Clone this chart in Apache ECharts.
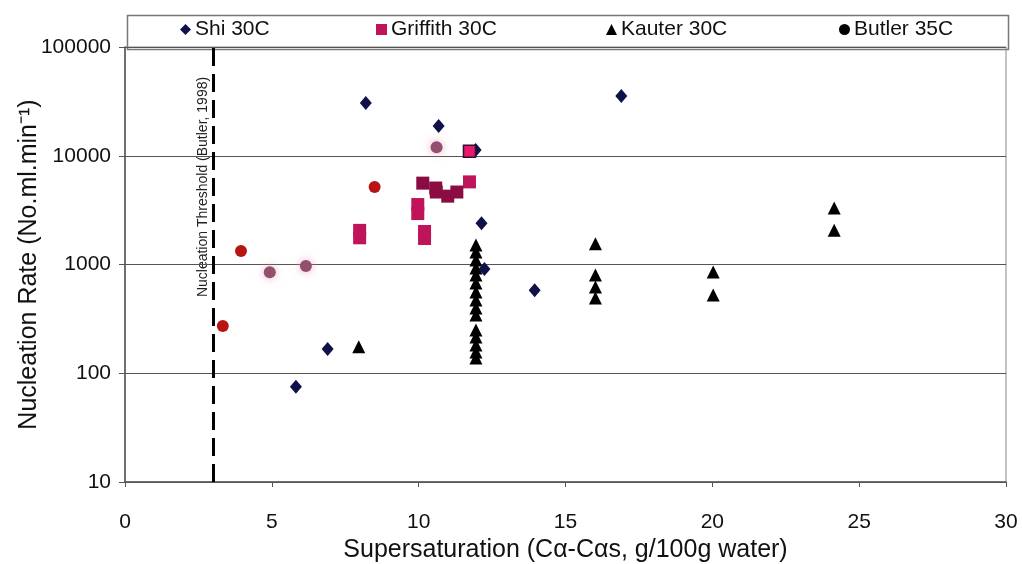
<!DOCTYPE html>
<html>
<head>
<meta charset="utf-8">
<script src="https://cdn.jsdelivr.net/npm/echarts@6/dist/echarts.min.js"></script>
<style>
  html, body { margin: 0; padding: 0; background: #fff; }
  #chart { width: 1022px; height: 564px; }
</style>
</head>
<body>
<div id="chart"></div>
<script>
// [supersaturation, nucleation rate]
const shi = [
  [8.2, 30500], [10.68, 18800], [16.9, 35500], [12.14, 2400],
  [11.94, 11300], [12.24, 910], [13.95, 580], [6.9, 167], [5.82, 75]
];
const griffith = [
  [7.99, 2060], [7.99, 1760], [9.97, 3560], [9.97, 2940],
  [10.2, 2010], [10.2, 1735], [11.73, 5750]
];
const griffithCluster = [
  [10.14, 5600], [10.58, 5050], [10.6, 4640], [10.99, 4250], [11.3, 4640]
];
const griffithMarked = [[11.73, 11000]];
const kauter = [
  [7.96, 175],
  [11.95, 1510], [11.95, 1300], [11.95, 1100], [11.95, 930], [11.95, 800],
  [11.95, 676], [11.95, 558], [11.95, 472], [11.95, 398], [11.95, 343],
  [11.95, 250], [11.95, 215], [11.95, 182], [11.95, 157], [11.95, 138],
  [16.02, 1550], [16.02, 800], [16.02, 621], [16.02, 492],
  [20.03, 853], [20.03, 525],
  [24.15, 3300], [24.15, 2070]
];
const butler = [[3.95, 1330], [3.33, 272], [8.5, 5150]];
const butlerFaded = [[4.93, 850], [6.16, 970], [10.61, 12000]];
const threshold = 3;

const font = 'Liberation Sans, Arial, sans-serif';
const chart = echarts.init(document.getElementById('chart'), null, { renderer: 'canvas' });

const legendBase = {
  top: 19, padding: 0, itemWidth: 11, itemHeight: 11, itemGap: 4,
  textStyle: { fontFamily: font, fontSize: 21, color: '#111', padding: [0, 0, 0, -1] }
};

chart.setOption({
  animation: false,
  backgroundColor: '#fff',
  grid: {
    left: 125, right: 16, top: 47, bottom: 82, outerBoundsMode: 'none',
    show: true, borderColor: '#888', borderWidth: 1
  },
  legend: [
    Object.assign({}, legendBase, { left: 180, data: ['Shi 30C'] }),
    Object.assign({}, legendBase, { left: 376, data: ['Griffith 30C'] }),
    Object.assign({}, legendBase, { left: 606, data: ['Kauter 30C'] }),
    Object.assign({}, legendBase, { left: 839, data: [{ name: 'Butler 35C', itemStyle: { color: '#000' } }] })
  ],
  graphic: [
    { type: 'rect', left: 125, top: 13, shape: { width: 881, height: 34 },
      style: { fill: 'none', stroke: '#777', lineWidth: 1.5 }, z: -1 },
    { type: 'text', x: 203, y: 187, rotation: Math.PI / 2,
      style: { text: 'Nucleation Threshold (Butler, 1998)', fontFamily: font, fontSize: 14,
        fill: '#222', align: 'center', verticalAlign: 'middle' } }
  ],
  xAxis: {
    type: 'value', min: 0, max: 30, interval: 5,
    name: 'Supersaturation (C\u03b1-C\u03b1s, g/100g water)',
    nameLocation: 'middle', nameGap: 56, nameMoveOverlap: false,
    nameTextStyle: { fontFamily: font, fontSize: 25, color: '#111' },
    axisLine: { lineStyle: { color: '#555', width: 1.5 } },
    axisTick: { show: true, length: 5, lineStyle: { color: '#555' } },
    axisLabel: { fontFamily: font, fontSize: 21, color: '#111', margin: 30 },
    splitLine: { show: false }
  },
  yAxis: {
    type: 'log', logBase: 10, min: 10, max: 100000,
    name: 'Nucleation Rate (No.ml.min\u207b\u00b9)',
    nameLocation: 'middle', nameGap: 83, nameMoveOverlap: false,
    nameTextStyle: { fontFamily: font, fontSize: 25, color: '#111' },
    axisLine: { show: true, lineStyle: { color: '#555', width: 1.5 } },
    axisTick: { show: true, length: 6, lineStyle: { color: '#555' } },
    minorTick: { show: false },
    axisLabel: { fontFamily: font, fontSize: 21, color: '#111', margin: 14,
      formatter: function (v) { return String(Math.round(v)); } },
    splitLine: { show: true, lineStyle: { color: '#555', width: 1.2 } }
  },
  series: [
    {
      name: 'Kauter 30C', type: 'scatter', data: kauter,
      symbol: 'triangle', symbolSize: [13, 13],
      itemStyle: { color: '#000', opacity: 1 },
      markLine: {
        silent: true, symbol: 'none', label: { show: false },
        lineStyle: { color: '#000', width: 3, type: [18, 8] },
        data: [{ xAxis: threshold }]
      }
    },
    {
      name: 'Butler 35C', type: 'scatter', data: butler,
      symbol: 'circle', symbolSize: 12,
      itemStyle: { color: '#b81414', opacity: 1 }
    },
    {
      name: 'Butler 35C', type: 'scatter', data: butlerFaded,
      symbol: 'circle', symbolSize: 12,
      itemStyle: { color: '#93506e', opacity: 1, shadowBlur: 8, shadowColor: 'rgba(230,150,180,0.8)' }
    },
    {
      name: 'Griffith 30C', type: 'scatter', data: griffith,
      symbol: 'rect', symbolSize: 13,
      itemStyle: { color: '#c0145a', opacity: 1 }
    },
    {
      name: 'Griffith 30C', type: 'scatter', data: griffithCluster,
      symbol: 'rect', symbolSize: 13,
      itemStyle: { color: '#8a0c42', opacity: 1 }
    },
    {
      name: 'Shi 30C', type: 'scatter', data: shi,
      symbol: 'diamond', symbolSize: [12, 14],
      itemStyle: { color: '#10104a', opacity: 1 }
    },
    {
      name: 'Griffith 30C', type: 'scatter', data: griffithMarked,
      symbol: 'rect', symbolSize: 12,
      itemStyle: { color: '#e8186a', borderColor: '#301030', borderWidth: 1.5, opacity: 1 }
    }
  ]
});
</script>
</body>
</html>
